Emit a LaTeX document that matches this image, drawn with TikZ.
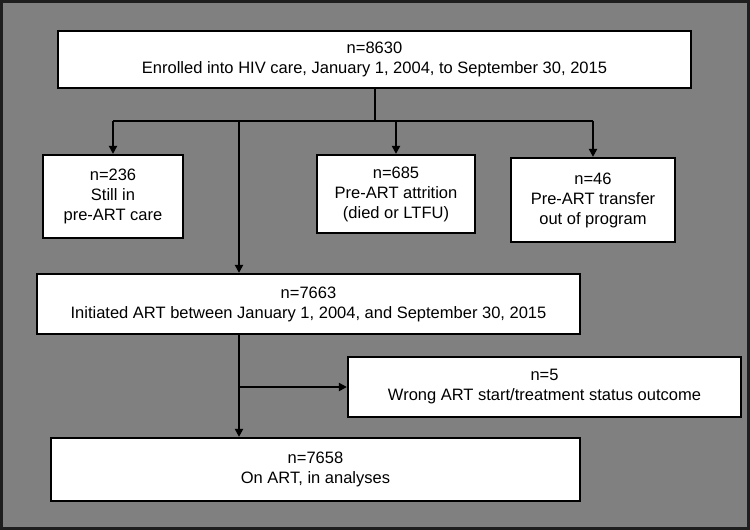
\documentclass[tikz,border=0pt]{standalone}
\usepackage{fontspec}
\setmainfont{Liberation Sans}
\usepackage{tikz}
\usetikzlibrary{arrows.meta}
\usepackage{xcolor}

\definecolor{bggray}{RGB}{128,128,128}
\definecolor{framegray}{RGB}{30,30,30}

\begin{document}
\begin{tikzpicture}[x=1pt, y=-1pt,
    every node/.style={font=\fontsize{16.5}{20}\selectfont},
    flowbox/.style={draw=black, fill=white, line width=2.2pt, align=center, inner sep=0pt},
    link/.style={draw=black, line width=2pt},
    arrowlink/.style={link, -{Triangle[length=8pt, width=8pt]}}]
  \useasboundingbox (0,0) rectangle (750,530);

  % grey panel with dark frame
  \draw[line width=3pt, draw=framegray, fill=bggray] (1.5,1.5) rectangle (748.5,528.5);

  % enrolment box
  \node[flowbox, minimum width=633pt, minimum height=57pt] (enrolled) at (374.5,59.5)
    {n=8630\\Enrolled into HIV care, January 1, 2004, to September 30, 2015};

  % pre-ART outcomes
  \node[flowbox, minimum width=140pt, minimum height=83pt] (still) at (113,196.5)
    {n=236\\Still in\\pre-ART care};
  \node[flowbox, minimum width=158pt, minimum height=78pt] (attrition) at (396,194)
    {n=685\\Pre-ART attrition\\(died or LTFU)};
  \node[flowbox, minimum width=164pt, minimum height=84pt] (transfer) at (593,200)
    {n=46\\Pre-ART transfer\\out of program};

  % ART start and analysis boxes
  \node[flowbox, minimum width=543pt, minimum height=60pt] (initiated) at (308.5,304)
    {n=7663\\Initiated ART between January 1, 2004, and September 30, 2015};
  \node[flowbox, minimum width=393pt, minimum height=60pt] (wrong) at (544.5,387)
    {n=5\\Wrong ART start/treatment status outcome};
  \node[flowbox, minimum width=529pt, minimum height=63pt] (analysed) at (315.5,469.5)
    {n=7658\\On ART, in analyses};

  % split line below the enrolment box
  \coordinate (bus) at (0,121);
  \coordinate (artline) at (239,121);
  \draw[link] (enrolled.south) -- (enrolled.south |- bus);
  \draw[link] (still.north |- bus) -- (transfer.north |- bus);
  \draw[arrowlink] (still.north |- bus) -- (still.north);
  \draw[arrowlink] (attrition.north |- bus) -- (attrition.north);
  \draw[arrowlink] (transfer.north |- bus) -- (transfer.north);
  \draw[arrowlink] (artline) -- (artline |- initiated.north);

  % ART start down to analyses, with the exclusion branch
  \draw[arrowlink] (artline |- initiated.south) -- (artline |- analysed.north);
  \draw[arrowlink] (artline |- wrong.west) -- (wrong.west);
\end{tikzpicture}
\end{document}
